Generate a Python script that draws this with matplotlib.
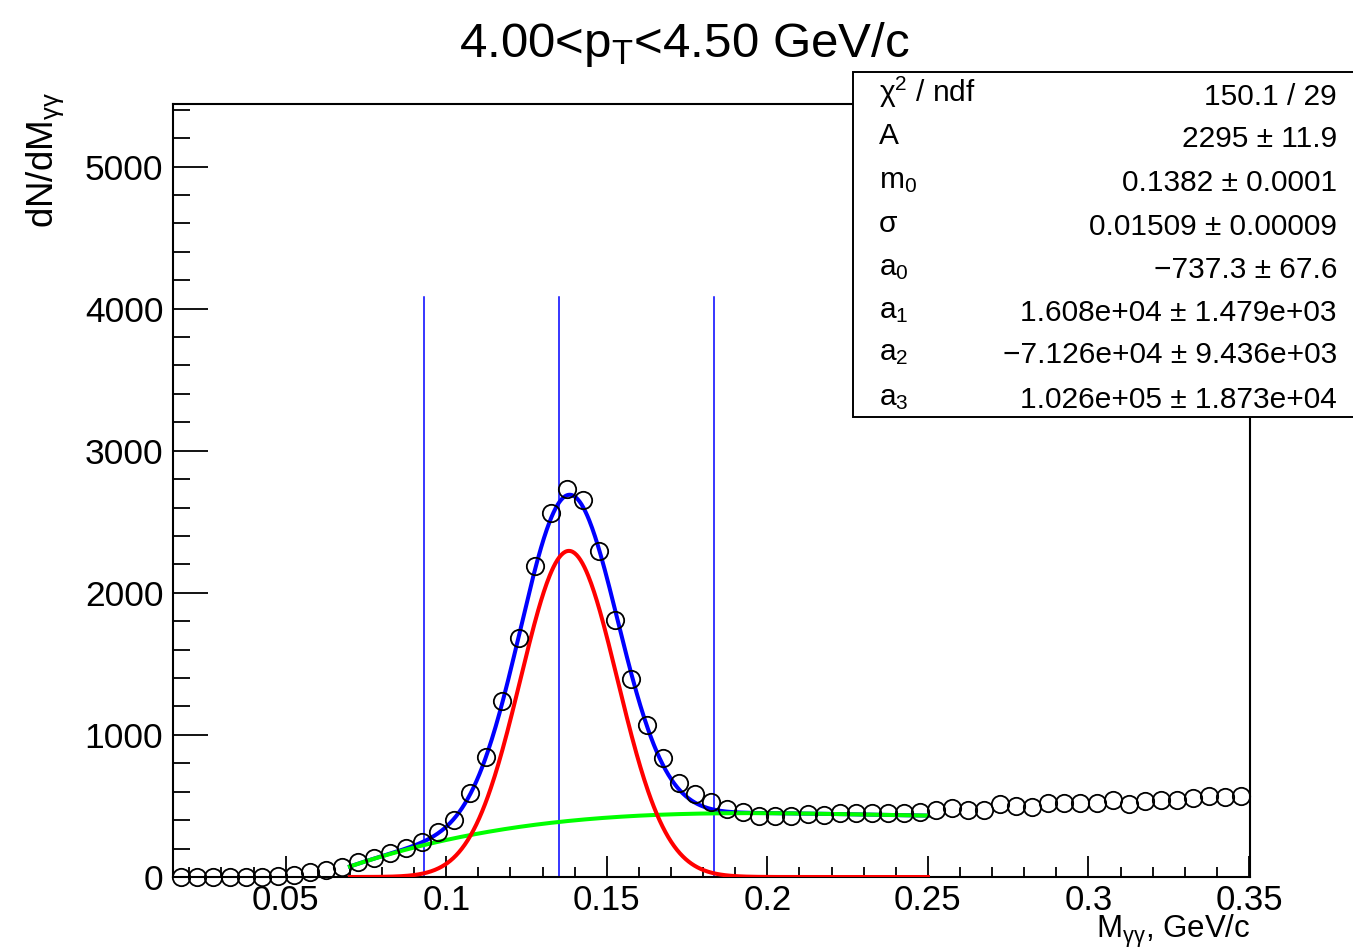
import numpy as np
import matplotlib
matplotlib.use('Agg')
import matplotlib.pyplot as plt
from matplotlib.ticker import MultipleLocator, FuncFormatter
from matplotlib.patches import Rectangle

plt.rcParams['font.family'] = ['Liberation Sans', 'DejaVu Sans']
plt.rcParams['mathtext.fontset'] = 'custom'
plt.rcParams['mathtext.rm'] = 'Liberation Sans'
plt.rcParams['mathtext.it'] = 'Liberation Sans'
plt.rcParams['mathtext.bf'] = 'Liberation Sans:bold'

# bin centres of the invariant mass histogram
mass = [0.0175 + 0.005 * i for i in range(67)]
counts = [0, 0, 0, 0, 0, 2, 5, 14, 35, 52,
          73, 105, 131, 170, 205, 249, 315, 404, 590, 848,
          1237, 1682, 2190, 2560, 2728, 2655, 2297, 1810, 1395, 1073,
          839, 663, 585, 527, 480, 460, 430, 430, 430, 441,
          437, 448, 453, 448, 448, 453, 460, 472, 484, 472,
          472, 512, 500, 495, 523, 519, 523, 519, 542, 514,
          537, 542, 542, 558, 570, 565, 570]

# fit results (from the stats box)
A, m0, sigma = 2295, 0.1382, 0.01509
a0, a1, a2, a3 = -737.3, 1.608e4, -7.126e4, 1.026e5
fit_lo, fit_hi = 0.07, 0.25
pdg_mass = 0.135

stat_names = [r'$\mathrm{\chi}^{2}$ / ndf', 'A', r'm$_{0}$', 'σ',
              r'a$_{0}$', r'a$_{1}$', r'a$_{2}$', r'a$_{3}$']
stat_values = ['150.1 / 29', '2295 ± 11.9', '0.1382 ± 0.0001',
               '0.01509 ± 0.00009', '−737.3 ± 67.6',
               '1.608e+04 ± 1.479e+03', '−7.126e+04 ± 9.436e+03',
               '1.026e+05 ± 1.873e+04']

W, H = 1353, 949
fig = plt.figure(figsize=(W / 100, H / 100), dpi=100)
ax = fig.add_axes([173 / W, 1 - 877 / H, (1250 - 173) / W, (877 - 104) / H])

x = np.linspace(fit_lo, fit_hi, 600)
sig = A * np.exp(-0.5 * ((x - m0) / sigma) ** 2)
bkg = a0 + a1 * x + a2 * x ** 2 + a3 * x ** 3

ax.plot(x, sig + bkg, color='#0000ff', lw=2.9, zorder=3)
ax.plot(x, bkg, color='#00ff00', lw=2.9, zorder=4)
ax.plot(x, sig, color='#ff0000', lw=2.9, zorder=5)

ymax = 5440
for xv in [m0 - 3 * sigma, pdg_mass, m0 + 3 * sigma]:
    ax.plot([xv, xv], [0, 0.75 * ymax], color='#0000ff', lw=1.1, zorder=2)

ax.plot(mass, counts, 'o', ms=12.5, mfc='none', mec='black', mew=1.3,
        clip_on=False, zorder=6)

ax.set_xlim(0.0149, 0.3503)
ax.set_ylim(0, ymax)

ax.xaxis.set_major_locator(MultipleLocator(0.05))
ax.xaxis.set_minor_locator(MultipleLocator(0.01))
ax.yaxis.set_major_locator(MultipleLocator(1000))
ax.yaxis.set_minor_locator(MultipleLocator(200))
ax.xaxis.set_major_formatter(FuncFormatter(lambda v, p: '%g' % round(v, 3)))
ax.yaxis.set_major_formatter(FuncFormatter(lambda v, p: '%d' % v))

ax.tick_params(axis='x', which='major', direction='in', length=15, width=1.3,
               labelsize=25, pad=5)
ax.tick_params(axis='x', which='minor', direction='in', length=7.5, width=1.3)
ax.tick_params(axis='y', which='major', direction='in', length=25, width=1.3,
               labelsize=25.5, pad=7)
ax.tick_params(axis='y', which='minor', direction='in', length=12.5, width=1.3)
for s in ax.spines.values():
    s.set_linewidth(1.5)

# title and axis titles
fig.text(684 / W, 1 - 57 / H, r'4.00<p$_{\mathrm{T}}$<4.50 GeV/c',
         ha='center', va='baseline', fontsize=35.5)
fig.text(45 / W, 1 - 92 / H, r'dN/dM$_{\mathrm{γγ}}$', rotation=90,
         ha='center', va='top', fontsize=26.5)
fig.text(1250 / W, 1 - 938 / H, r'M$_{\mathrm{γγ}}$, GeV/c',
         ha='right', va='baseline', fontsize=22.5)

# stats box
box = Rectangle((853 / W, 1 - 417 / H), 0.5, (417 - 72) / H,
                transform=fig.transFigure, facecolor='white',
                edgecolor='black', lw=1.4, zorder=10)
fig.add_artist(box)
baselines = [105, 147, 191, 235, 278, 321, 363, 408]
for name, val, yb in zip(stat_names, stat_values, baselines):
    fig.text(879 / W, 1 - (yb - 3) / H, name, ha='left', va='baseline',
             fontsize=21.5, zorder=11)
    fig.text(1337 / W, 1 - yb / H, val, ha='right', va='baseline',
             fontsize=21.5, zorder=11)

fig.savefig('out.png', dpi=100)
